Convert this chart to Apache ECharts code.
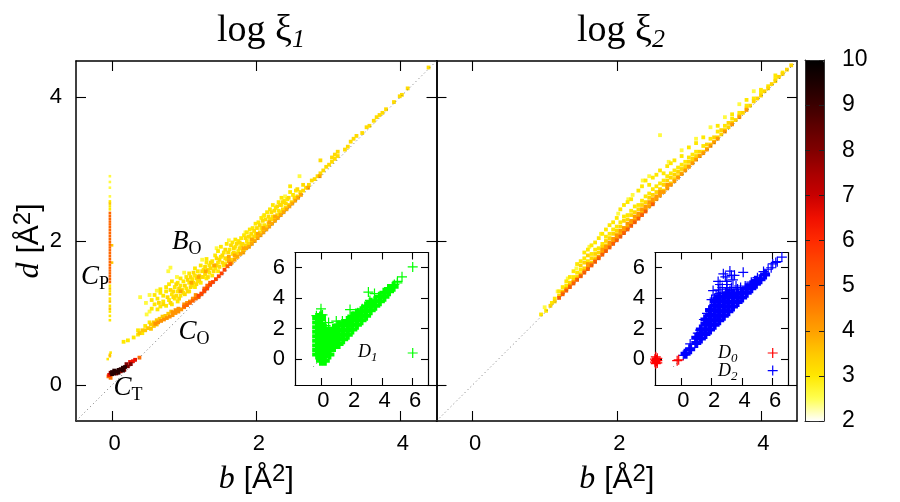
<!DOCTYPE html>
<html>
<head>
<meta charset="utf-8">
<title>log xi</title>
<style>
  html, body { margin: 0; padding: 0; background: #fff; }
  #chart { width: 900px; height: 502px; }
</style>
<script src="https://cdn.jsdelivr.net/npm/echarts@6/dist/echarts.min.js"></script>
</head>
<body>
<div id="chart"></div>
<script>
// every row below is [b, d1, d2, ...]

// log xi 1, C_P vertical streak
var cpPale = [[-0.03, 2.9, 2.82, 2.74, 2.62]];
var cpYellow = [[-0.03, 2.55, 2.48, 2.44, 1.38, 1.3, 1.2, 1.1, 1.02, 0.96, 0.9], [-0.06, 0.36], [-0.02, 0.45]];
var cpGold = [[-0.03, 2.52, 1.34, 1.26, 1.16, 1.06, 0.42, 0.4], [0, 1.94, 1.7]];
var cpDeep = [[-0.03, 2.39, 2.35, 2.31, 2.27, 2.23, 2.19, 2.15, 2.11, 2.07, 2.03, 1.99, 1.95, 1.91, 1.87, 1.83, 1.79, 1.75, 1.71, 1.67, 1.63, 1.59, 1.55, 1.51, 1.47, 1.43]];

// log xi 1, C_T dark streak
var ctOrange = [[-0.05, 0.12], [0.38, 0.38], [-0.02, 0.1]];
var ctRed = [[-0.04, 0.14], [0.25, 0.32], [0.29, 0.33], [0.32, 0.35], [0.12, 0.19]];
var ctDark = [[-0.02, 0.17], [0.2, 0.29], [0.22, 0.26], [0.26, 0.29], [0.17, 0.21], [0.06, 0.16]];
var ctBlack = [[0, 0.15, 0.18], [0.03, 0.16, 0.2], [0.06, 0.19], [0.09, 0.17, 0.21], [0.12, 0.22], [0.15, 0.2, 0.24], [0.18, 0.25]];

// log xi 1, C_O band and the diagonal ridge going on from it
var coYellow = [[0.16, 0.6], [0.22, 0.62], [0.3, 0.66], [0.36, 0.7, 0.76], [0.42, 0.72], [0.46, 0.82], [0.52, 0.87]];
var coGold = [[0.38, 0.72], [0.42, 0.76], [0.46, 0.76], [0.5, 0.79], [0.54, 0.78, 0.84], [0.58, 0.82, 0.87], [0.62, 0.84, 0.9], [0.66, 0.92], [0.7, 0.95], [0.74, 0.96], [0.78, 0.99], [0.82, 1.02]];
var coOrange = [[0.6, 0.85], [0.64, 0.87], [0.68, 0.89], [0.72, 0.91], [0.76, 0.93], [0.8, 0.95], [0.84, 0.97, 1.01], [0.88, 1, 1.04], [0.92, 1.02, 1.06], [0.96, 1.05], [1, 1.08, 1.12], [1.04, 1.14], [1.08, 1.16], [1.12, 1.2], [1.16, 1.25]];
var coDeep = [[1, 1.09], [1.04, 1.11], [1.08, 1.14], [1.12, 1.17], [1.16, 1.2], [1.2, 1.22], [1.24, 1.26], [1.28, 1.3, 1.34], [1.32, 1.38], [1.36, 1.42], [1.6, 1.65], [1.64, 1.68]];
var coRed = [[1.2, 1.24], [1.24, 1.27], [1.28, 1.31], [1.32, 1.34], [1.36, 1.39], [1.4, 1.43], [1.44, 1.47], [1.48, 1.51], [1.52, 1.55], [1.56, 1.6]];

// log xi 1, B_O cloud
var boPale = [[0.39, 1.22], [0.47, 1.14], [0.52, 1.02, 1.25], [0.62, 1.31], [0.78, 1.58], [0.81, 1.63], [0.9, 1.5], [1.0, 1.56], [1.25, 1.74], [1.45, 1.9], [1.62, 2.01], [1.85, 2.12], [2.1, 2.34], [2.4, 2.62], [2.6, 2.9], [0.48, 0.98]];
var boYellow = [
  [0.55, 1.06, 1.18], [0.59, 1.12, 1.25], [0.63, 1.05, 1.2], [0.67, 1.09, 1.28, 1.33], [0.71, 1.16, 1.24],
  [0.75, 1.1, 1.3, 1.36], [0.79, 1.18, 1.4], [0.83, 1.12, 1.26, 1.44], [0.87, 1.2, 1.36], [0.91, 1.16, 1.3, 1.42],
  [0.95, 1.24, 1.38, 1.48], [0.99, 1.28, 1.44], [1.03, 1.34, 1.5], [1.07, 1.3, 1.42, 1.55], [1.11, 1.38, 1.47],
  [1.15, 1.36, 1.52, 1.62], [1.19, 1.44, 1.58], [1.23, 1.42, 1.66], [1.27, 1.5, 1.6], [1.31, 1.48, 1.7, 1.75],
  [1.35, 1.56, 1.66], [1.39, 1.52, 1.72], [1.43, 1.62, 1.8], [1.47, 1.58, 1.7, 1.86], [1.51, 1.78, 1.92],
  [1.55, 1.66, 1.84], [1.59, 1.74, 1.96], [1.63, 1.7, 1.88], [1.67, 1.82, 1.98], [1.71, 1.78, 1.92, 2.02],
  [1.75, 1.86, 2], [1.79, 1.94, 2.04], [1.83, 1.88, 2.08], [1.87, 2, 2.12], [1.91, 2.06, 2.16], [1.95, 2.02, 2.18],
  [1.99, 2.1, 2.24], [2.03, 2.26], [2.07, 2.18, 2.32], [2.11, 2.22, 2.36], [2.15, 2.4], [2.19, 2.3, 2.44], [2.23, 2.34, 2.5],
  [2.27, 2.46], [2.31, 2.42, 2.54], [2.35, 2.5, 2.6], [2.39, 2.56], [2.43, 2.58], [2.47, 2.68, 2.76], [2.51, 2.64], [2.55, 2.7]
];
var boGold = [
  [0.65, 1.14], [0.71, 1.12], [0.77, 1.22], [0.81, 1.14, 1.32], [0.85, 1.22, 1.3], [0.89, 1.24, 1.4], [0.93, 1.2, 1.34],
  [0.97, 1.32], [1.01, 1.38, 1.26], [1.05, 1.3, 1.46], [1.09, 1.36, 1.5], [1.13, 1.42, 1.56], [1.17, 1.4, 1.48], [1.21, 1.52, 1.46],
  [1.25, 1.5, 1.58], [1.29, 1.54, 1.64], [1.33, 1.5, 1.6], [1.37, 1.62, 1.7], [1.41, 1.58, 1.66], [1.45, 1.66, 1.76], [1.49, 1.64, 1.74],
  [1.53, 1.7, 1.8], [1.57, 1.68, 1.76, 1.88], [1.61, 1.76, 1.84], [1.65, 1.74, 1.94], [1.69, 1.84, 1.9], [1.73, 1.82, 1.96], [1.77, 1.9, 1.98],
  [1.81, 1.86, 1.96], [1.85, 1.94, 2.04], [1.89, 1.96, 2.06], [1.93, 2, 2.1], [1.97, 2.06, 2.14], [2.01, 2.08, 2.18], [2.05, 2.12, 2.22], [2.09, 2.16, 2.28],
  [2.13, 2.2, 2.3], [2.17, 2.24, 2.34], [2.21, 2.3, 2.4], [2.25, 2.32, 2.42], [2.29, 2.36, 2.48], [2.33, 2.4, 2.5], [2.37, 2.44, 2.54],
  [2.41, 2.46, 2.52], [2.45, 2.5, 2.6], [2.49, 2.54], [2.53, 2.6], [2.57, 2.62, 2.72], [2.61, 2.68], [2.65, 2.7, 2.78], [2.69, 2.74],
  [2.73, 2.78], [2.77, 2.84], [2.81, 2.86], [2.85, 2.9], [2.89, 2.94, 3.12], [2.93, 2.98], [2.97, 3.03], [3.01, 3.06], [3.05, 3.1, 3.16], [3.09, 3.14, 3.2],
  [3.13, 3.18, 3.24], [3.23, 3.27], [3.27, 3.31], [3.31, 3.38], [3.35, 3.42], [3.39, 3.46], [3.47, 3.5], [3.53, 3.58], [3.57, 3.6], [3.63, 3.67], [3.67, 3.72], [3.71, 3.75], [3.75, 3.78], [3.8, 3.83], [3.91, 3.93], [3.99, 4.01], [4.02, 4.03], [4.1, 4.12], [4.39, 4.41]
];
var boOrange = [
  [0.95, 1.3], [1.1, 1.42], [1.2, 1.5], [1.3, 1.58], [1.42, 1.66], [1.62, 1.72, 1.78], [1.66, 1.7], [1.7, 1.74, 1.8], [1.74, 1.78], [1.78, 1.82],
  [1.82, 1.84, 1.9], [1.86, 1.9], [1.9, 1.92], [1.94, 1.96, 2.02], [1.98, 2], [2.02, 2.04, 2.1], [2.06, 2.08], [2.1, 2.12, 2.18], [2.14, 2.16], [2.18, 2.2, 2.26],
  [2.22, 2.24], [2.26, 2.28, 2.34], [2.3, 2.32], [2.34, 2.36], [2.38, 2.4], [2.42, 2.44], [2.46, 2.48], [2.5, 2.52], [2.54, 2.56], [2.58, 2.6], [2.62, 2.64], [2.72, 2.74], [2.88, 2.9]
];

// log xi 2, ridge along the diagonal
var ridgePale = [
  [1.0, 1.08], [1.18, 1.3], [1.32, 1.48], [1.44, 1.62], [1.62, 1.92], [1.78, 2.1], [2.02, 2.38], [2.16, 2.58], [2.22, 2.64], [2.36, 2.84], [2.45, 2.9], [2.6, 3.47],
  [2.72, 3.1], [2.9, 3.26], [3.1, 3.42], [3.3, 3.58], [3.5, 3.72], [3.7, 3.9], [3.9, 4.08]
];
var ridgeYellow = [
  [0.95, 0.98], [1.02, 1.03], [1.1, 1.14], [1.14, 1.2], [1.2, 1.3], [1.25, 1.36], [1.3, 1.38, 1.44], [1.35, 1.5], [1.4, 1.5, 1.58], [1.45, 1.56, 1.68], [1.5, 1.6, 1.72], [1.55, 1.76, 1.84], [1.6, 1.72, 1.88],
  [1.65, 1.82, 1.94], [1.7, 1.88, 1.98], [1.75, 1.9, 2.04], [1.8, 1.96, 2.1], [1.85, 2.06, 2.16], [1.9, 2.1, 2.22], [1.95, 2.16, 2.26], [2, 2.2, 2.32], [2.05, 2.26, 2.44], [2.1, 2.34, 2.5], [2.15, 2.36, 2.54],
  [2.2, 2.42, 2.58], [2.25, 2.48], [2.3, 2.5, 2.7], [2.35, 2.56, 2.76], [2.4, 2.62, 2.84], [2.45, 2.66, 2.78], [2.5, 2.72, 2.88], [2.55, 2.76, 2.92], [2.6, 2.8, 2.98], [2.65, 2.84, 2.94], [2.7, 2.9, 3.04], [2.75, 2.94, 3.08],
  [2.8, 2.98, 3.12], [2.85, 3.02], [2.9, 3.06, 3.18], [2.95, 3.1], [3, 3.16, 3.3], [3.05, 3.2], [3.1, 3.24, 3.36], [3.2, 3.32, 3.44], [3.3, 3.42], [3.4, 3.52, 3.6], [3.5, 3.6], [3.6, 3.7, 3.76], [3.7, 3.78], [3.8, 3.88, 3.96], [3.9, 3.98], [4, 4.06, 4.1], [4.1, 4.15], [4.2, 4.25, 4.3], [4.3, 4.34]
];
var ridgeGold = [
  [1.08, 1.1], [1.14, 1.16], [1.2, 1.24], [1.25, 1.3], [1.3, 1.34], [1.35, 1.42], [1.4, 1.46], [1.45, 1.5], [1.5, 1.54, 1.66], [1.55, 1.62, 1.7], [1.6, 1.66, 1.8], [1.65, 1.7, 1.76], [1.7, 1.76, 1.82], [1.75, 1.84], [1.8, 1.86, 1.92],
  [1.85, 1.94, 2], [1.9, 1.96, 2.04], [1.95, 2.02, 2.1], [2, 2.08, 2.14], [2.05, 2.12, 2.2], [2.1, 2.18, 2.28], [2.15, 2.22, 2.3], [2.2, 2.26, 2.36], [2.25, 2.32, 2.4], [2.3, 2.36, 2.44], [2.35, 2.42, 2.5], [2.4, 2.46, 2.54], [2.45, 2.5, 2.6], [2.5, 2.56, 2.64],
  [2.55, 2.6, 2.68], [2.6, 2.66, 2.72], [2.65, 2.7, 2.78], [2.7, 2.76, 2.84], [2.75, 2.8, 2.88], [2.8, 2.86, 2.92], [2.85, 2.9, 2.96], [2.9, 2.94, 3], [2.95, 3, 3.04], [3, 3.04, 3.1], [3.05, 3.1, 3.14], [3.1, 3.14, 3.18], [3.15, 3.18, 3.24], [3.2, 3.24], [3.25, 3.28, 3.34], [3.3, 3.34], [3.35, 3.38, 3.44], [3.4, 3.44], [3.45, 3.48, 3.54], [3.5, 3.54], [3.55, 3.58, 3.64], [3.6, 3.64],
  [3.65, 3.68], [3.7, 3.74], [3.75, 3.78], [3.8, 3.84], [3.85, 3.88], [3.9, 3.94], [3.95, 3.98], [4, 4.02], [4.05, 4.08], [4.1, 4.12], [4.15, 4.18], [4.2, 4.22], [4.25, 4.28], [4.3, 4.32], [4.36, 4.38], [4.42, 4.44]
];
var ridgeOrange = [
  [1.25, 1.28], [1.3, 1.33], [1.35, 1.38], [1.4, 1.43], [1.45, 1.47], [1.5, 1.52], [1.55, 1.58], [1.6, 1.63, 1.68], [1.65, 1.68], [1.7, 1.73], [1.75, 1.78], [1.8, 1.83, 1.88], [1.85, 1.88, 1.92], [1.9, 1.93, 1.98], [1.95, 1.98, 2.03], [2, 2.03, 2.08], [2.05, 2.08, 2.14], [2.1, 2.13, 2.18], [2.15, 2.18, 2.24], [2.2, 2.23, 2.28], [2.25, 2.28, 2.34], [2.3, 2.33, 2.38], [2.35, 2.38, 2.44],
  [2.4, 2.43, 2.48], [2.45, 2.48, 2.54], [2.5, 2.53, 2.58], [2.55, 2.58, 2.62], [2.6, 2.63, 2.68], [2.65, 2.68], [2.7, 2.73, 2.78], [2.75, 2.78], [2.8, 2.83], [2.85, 2.88], [2.9, 2.93], [2.95, 2.98], [3, 3.03], [3.05, 3.08], [3.1, 3.13], [3.15, 3.18], [3.2, 3.22], [3.25, 3.27], [3.3, 3.32], [3.35, 3.37], [3.4, 3.42], [3.5, 3.52], [3.6, 3.62], [3.7, 3.72], [3.8, 3.82]
];
var ridgeDeep = [
  [1.2, 1.21], [1.25, 1.26], [1.3, 1.31], [1.35, 1.36], [1.4, 1.41], [1.45, 1.46], [1.5, 1.51], [1.55, 1.56], [1.6, 1.61], [1.65, 1.66], [1.7, 1.71], [1.75, 1.76], [1.8, 1.81], [1.85, 1.86], [1.9, 1.91], [1.95, 1.96], [2, 2.01], [2.05, 2.06], [2.1, 2.11], [2.15, 2.16], [2.2, 2.21], [2.25, 2.26], [2.3, 2.31], [2.35, 2.36], [2.4, 2.41], [2.5, 2.51]
];

// insets, crosses and the filled core under them
var d1Core = [
  [-0.25, 0.3, 0.6, 0.9, 1.2, 1.5, 1.8, 2.1, 2.4, 2.7], [0, -0.1, 0.2, 0.5, 0.8, 1.1, 1.4, 1.7, 2, 2.3, 2.6, 2.8], [0.25, -0.1, 0.2, 0.5, 0.8, 1.1, 1.4, 1.7, 2],
  [0.55, 0.3, 0.6, 0.9, 1.2, 1.5, 1.8], [0.85, 0.8, 1.1, 1.4, 1.7, 2], [1.15, 1, 1.3, 1.6, 1.9, 2.2], [1.45, 1.3, 1.6, 1.9, 2.3], [1.75, 1.6, 1.9, 2.2, 2.5], [2.05, 1.95, 2.25, 2.6, 2.8],
  [2.35, 2.25, 2.55, 2.85, 3], [2.65, 2.55, 2.85, 3.15], [2.95, 2.85, 3.15, 3.45], [3.25, 3.2, 3.5, 3.7], [3.55, 3.5, 3.8], [3.85, 3.8, 4.1], [4.15, 4.1, 4.35], [4.45, 4.45, 4.6], [4.75, 4.75]
];
var d1Cross = [[6, 6.05, 0.4], [5.3, 5.4], [5, 5, 5.1], [4.8, 4.9], [3.1, 4.4], [3.5, 4.3], [0, 3.3, 2.9], [1.9, 3.25], [2.7, 3.3], [0.5, 2.4], [1, 2.5], [1.4, 2.5], [0.3, 2.2], [2.4, 3.05], [3.2, 3.85], [-0.3, 2.85], [0.1, 2.9]];
var d0Core = [[-1.62, -0.1, -0.2, 0]];
var d0Cross = [[-1.65, -0.1, 0.15, -0.3], [-1.55, -0.1, -0.25, 0.05], [-1.7, -0.2, 0], [-0.15, -0.05], [-0.25, -0.1], [6, 0.4]];
var d2Core = [
  [0.3, 0.35], [0.6, 0.65], [1, 1.05, 1.4], [1.3, 1.35, 1.65, 1.95], [1.6, 1.65, 1.95, 2.3, 2.6], [1.9, 1.95, 2.25, 2.55, 2.9, 3.2], [2.2, 2.25, 2.55, 2.85, 3.2, 3.5, 3.8], [2.5, 2.55, 2.85, 3.15, 3.5, 3.8, 4.1],
  [2.8, 2.85, 3.15, 3.45, 3.8, 4.1], [3.1, 3.15, 3.45, 3.75, 4.1, 4.3], [3.4, 3.45, 3.75, 4.1, 4.3], [3.7, 3.75, 4.05, 4.3], [4, 4.05, 4.35], [4.3, 4.35, 4.65], [4.6, 4.65, 4.85], [4.9, 4.95, 5.15], [5.2, 5.25], [5.5, 5.55]
];
var d2Cross = [
  [0.15, 0.25], [0.6, 0.7, 1], [1.25, 1.9], [1.9, 3.3], [2.77, 5.6], [3.2, 5.78], [3.5, 5.5], [4.07, 5.7], [2.43, 5.1], [2.1, 4.5], [3, 4.6, 4.9, 5.1], [3.6, 4.8], [3.4, 5.2], [2.55, 4.3, 4.9], [2.9, 5.4, 4.4], [3.3, 5.5, 4.7], [3.7, 4.6], [2.7, 4.7], [3.2, 4.5],
  [5.7, 5.9], [5.9, 6], [6, 6.25], [6.2, 6.35], [6.3, 6.4], [6.6, 6.7], [5.4, 5.75], [5, 5.35], [4.6, 5.05], [6, -0.75], [2, 3.9], [2.3, 4.2], [3.9, 4.7], [4.2, 4.8], [1.5, 2.6], [1.7, 3], [1.1, 1.7], [2.2, 4.0], [2.45, 4.55]
];

var xTicks = [0, 2, 4];
var yTicks = [0, 2, 4];
var insetTicks = [0, 2, 4, 6];
var barTicks = [2, 3, 4, 5, 6, 7, 8, 9, 10];
var barColors = ['#ffffff', '#ffff50', '#ffe800', '#ffc800', '#ffa000', '#ff8000', '#ff6000', '#ff4800', '#ff2a00', '#f01000', '#c80000', '#a80000', '#800000', '#600000', '#3c0000', '#1c0000', '#000000'];

// name, sub, b, d
var panelNotes = [['B', 'O', 0.83, 1.99], ['C', 'P', -0.43, 1.5], ['C', 'O', 0.92, 0.74], ['C', 'T', 0.02, -0.04]];
var insetNotes1 = [['D', '1', 2.42, 0.46]];
var insetNotes2 = [['D', '0', 2.42, 0.39], ['D', '2', 2.42, -0.78]];

var serif = 'Liberation Serif', sans = 'Liberation Sans';

function rows (list, level) {
  var out = [];
  list.forEach(function (row) {
    for (var i = 1; i < row.length; i++) {
      out.push(level === undefined ? [row[0], row[i]] : [row[0], row[i], level]);
    }
  });
  return out;
}

var grids = [
  { left: 76, top: 61, width: 360.5, height: 360 },
  { left: 436.5, top: 61, width: 360.5, height: 360 },
  { left: 295, top: 252.5, width: 133, height: 132.5 },
  { left: 655, top: 252.5, width: 133, height: 132.5 },
  { left: 805, top: 60, width: 19, height: 361 }
];

var xAxes = [], yAxes = [];
var labelBase = { fontFamily: sans, fontSize: 22, color: '#000' };
var nameRich = {
  i: { fontFamily: serif, fontStyle: 'italic', fontWeight: 'normal', fontSize: 32, lineHeight: 36, color: '#000', padding: [0, 9, 0, 0] },
  n: { fontFamily: sans, fontWeight: 'normal', fontSize: 30, lineHeight: 36, color: '#000' },
  s: { fontFamily: sans, fontWeight: 'normal', fontSize: 24, lineHeight: 24, verticalAlign: 'top', color: '#000' }
};

function addAxes (g, min, max, ticks, tickLen, lineWidth, opts) {
  var line = { show: true, onZero: false, lineStyle: { color: '#000', width: lineWidth } };
  [0, 1].forEach(function (mirror) {
    var xLabel = !mirror && opts.xLabel;
    var yLabel = !mirror && opts.yLabel;
    xAxes.push({
      gridIndex: g, type: 'value', min: min, max: max, position: mirror ? 'top' : 'bottom',
      axisLine: line, splitLine: { show: false },
      axisTick: { show: true, inside: true, length: tickLen, customValues: ticks, lineStyle: { color: '#000', width: 1.1 } },
      axisLabel: Object.assign({ show: !!xLabel, customValues: ticks, margin: opts.xMargin, padding: [0, 0, 0, 5] }, labelBase),
      name: xLabel ? opts.xName : '', nameLocation: 'middle', nameGap: 41, nameTextStyle: { rich: nameRich }
    });
    yAxes.push({
      gridIndex: g, type: 'value', min: min, max: max, position: mirror ? 'right' : 'left',
      axisLine: line, splitLine: { show: false },
      axisTick: { show: true, inside: true, length: tickLen, customValues: ticks, lineStyle: { color: '#000', width: 1.1 } },
      axisLabel: Object.assign({ show: !!yLabel, customValues: ticks, margin: opts.yMargin }, labelBase),
      name: yLabel ? opts.yName : '', nameLocation: 'middle', nameGap: 27, nameTextStyle: { rich: nameRich }
    });
  });
}

var bName = '{i|b}{n|[Å}{s|2}{n|]}';
var dName = '{i|d}{n|[Å}{s|2}{n|]}';
addAxes(0, -0.5, 4.5, xTicks, 10, 1.5, { xLabel: true, yLabel: true, xMargin: 12, yMargin: 14, xName: bName, yName: dName });
addAxes(1, -0.5, 4.5, xTicks, 10, 1.5, { xLabel: true, xMargin: 12, xName: bName });
addAxes(2, -1.7, 7, insetTicks, 7, 1.2, { xLabel: true, yLabel: true, xMargin: 5, yMargin: 10 });
addAxes(3, -1.7, 7, insetTicks, 7, 1.2, { xLabel: true, yLabel: true, xMargin: 5, yMargin: 10 });

// colour bar frame, the colours come from the visualMap under it
[0, 1].forEach(function (mirror) {
  var frame = { show: true, onZero: false, lineStyle: { color: '#333', width: 1 } };
  xAxes.push({
    gridIndex: 4, type: 'value', min: 0, max: 1, position: mirror ? 'top' : 'bottom', z: 10,
    axisLine: frame, axisTick: { show: false }, axisLabel: { show: false }, splitLine: { show: false }
  });
  yAxes.push({
    gridIndex: 4, type: 'value', min: 2, max: 10, interval: 1, position: mirror ? 'left' : 'right', z: 10,
    axisLine: frame, splitLine: { show: false },
    axisTick: { show: true, inside: true, length: 5, lineStyle: { color: '#222', width: 1 } },
    axisLabel: Object.assign({ show: !mirror, margin: 18, customValues: barTicks }, labelBase, { fontSize: 23 })
  });
});

var series = [];
var mapped = [];

function cloud (panel, list, level, size) {
  mapped.push(series.length);
  series.push({
    type: 'scatter', xAxisIndex: panel * 2, yAxisIndex: panel * 2, symbol: 'rect', symbolSize: size || 3.8,
    itemStyle: { opacity: 1 }, data: rows(list, level), animation: false, silent: true
  });
}

function diagonal (panel, from, to) {
  series.push({
    type: 'line', xAxisIndex: panel * 2, yAxisIndex: panel * 2, showSymbol: false, silent: true, animation: false,
    lineStyle: { color: '#666', width: 0.9, type: [1, 3] }, data: [[from, from], [to, to]]
  });
}

var crossThin = 'path://M-0.6,-5h1.2v4.4h4.4v1.2h-4.4v4.4h-1.2v-4.4h-4.4v-1.2h4.4z';
var crossFat = 'path://M-2,-5h4v3h3v4h-3v3h-4v-3h-3v-4h3z';

function crosses (panel, list, color, symbol, size) {
  series.push({
    type: 'scatter', xAxisIndex: panel * 2, yAxisIndex: panel * 2, symbol: symbol, symbolSize: size,
    itemStyle: { color: color, opacity: 1 }, data: rows(list), clip: false, animation: false, silent: true
  });
}

function notes (panel, list, size, subSize, subItalic) {
  series.push({
    type: 'scatter', xAxisIndex: panel * 2, yAxisIndex: panel * 2, symbolSize: 0, silent: true, animation: false,
    itemStyle: { opacity: 1 },
    data: list.map(function (n) {
      return {
        value: [n[2], n[3]],
        label: {
          show: true, position: 'right', distance: 0,
          formatter: '{a|' + n[0] + '}{b|' + n[1] + '}',
          rich: {
            a: { fontFamily: serif, fontStyle: 'italic', fontSize: size, color: '#000', lineHeight: size + 6 },
            b: { fontFamily: serif, fontStyle: subItalic ? 'italic' : 'normal', fontSize: subSize, color: '#000', verticalAlign: 'bottom', lineHeight: subSize }
          }
        }
      };
    })
  });
}

diagonal(0, -0.5, 4.5);
diagonal(1, -0.5, 4.5);
diagonal(2, -0.5, 0);
diagonal(3, -0.5, 0);

cloud(0, boPale, 2.6);
cloud(0, boYellow, 3);
cloud(0, boGold, 3.2);
cloud(0, boOrange, 3.9);
cloud(0, coYellow, 3);
cloud(0, coGold, 3.5);
cloud(0, coOrange, 4.2);
cloud(0, coDeep, 4.9);
cloud(0, coRed, 5.6);
cloud(0, cpPale, 2.6, 2.6);
cloud(0, cpYellow, 3, 2.6);
cloud(0, cpGold, 3.5, 2.6);
cloud(0, cpDeep, 4.9, 2.6);
cloud(0, ctOrange, 4.8);
cloud(0, ctRed, 6.5);
cloud(0, ctDark, 8);
cloud(0, ctBlack, 9.3);

cloud(1, ridgePale, 2.6);
cloud(1, ridgeYellow, 3);
cloud(1, ridgeGold, 3.3);
cloud(1, ridgeOrange, 4.1);
cloud(1, ridgeDeep, 5);

crosses(2, d1Core, '#00ff00', crossFat, 10);
crosses(2, d1Cross, '#00ff00', crossThin, 10);
crosses(3, d2Core, '#0000ff', crossFat, 10);
crosses(3, d2Cross, '#0000ff', crossThin, 10);
crosses(3, d0Core, '#ff0000', crossFat, 8);
crosses(3, d0Cross, '#ff0000', crossThin, 10);

notes(0, panelNotes, 27, 18, false);
notes(2, insetNotes1, 18, 13, true);
notes(3, insetNotes2, 18, 13, true);

var titleRich = {
  a: { fontFamily: serif, fontWeight: 'normal', fontSize: 38, lineHeight: 44, color: '#000' },
  b: { fontFamily: serif, fontStyle: 'italic', fontWeight: 'normal', fontSize: 26, lineHeight: 26, verticalAlign: 'bottom', color: '#000' }
};

var chart = echarts.init(document.getElementById('chart'), null, { renderer: 'canvas' });
chart.setOption({
  backgroundColor: '#fff',
  animation: false,
  title: [
    { text: '{a|log ξ}{b|1}', left: 256, top: 4, textAlign: 'center', textStyle: { rich: titleRich } },
    { text: '{a|log ξ}{b|2}', left: 616, top: 4, textAlign: 'center', textStyle: { rich: titleRich } }
  ],
  grid: grids,
  xAxis: xAxes,
  yAxis: yAxes,
  visualMap: {
    type: 'continuous', min: 2, max: 10, dimension: 2, seriesIndex: mapped, calculable: false, realtime: false,
    left: 805, top: 60, itemWidth: 19, itemHeight: 361, padding: 0, text: null, showLabel: false,
    inRange: { color: barColors }, hoverLink: false
  },
  series: series
});
</script>
</body>
</html>
